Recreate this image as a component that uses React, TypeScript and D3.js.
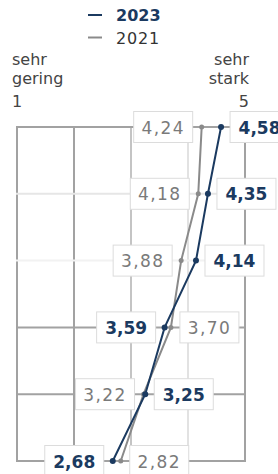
import React, { useEffect, useRef } from 'react';
import * as d3 from 'd3';

// rating scale 1 (sehr gering) .. 5 (sehr stark)
const scaleTicks = [1, 2, 3, 4, 5];
const items = ['A', 'B', 'C', 'D', 'E', 'F'];
const values2023 = [4.58, 4.35, 4.14, 3.59, 3.25, 2.68];
const values2021 = [4.24, 4.18, 3.88, 3.7, 3.22, 2.82];
const legendLabels = ['2023', '2021'];

const W = 278;
const H = 474;
const NAVY = '#1b3a60';
const GREY = '#8a8a8a';
const FONT = "'DejaVu Sans', Verdana, sans-serif";

const fmt = (v: number) => v.toFixed(2).replace('.', ',');

const App = () => {
  const ref = useRef<SVGSVGElement | null>(null);

  useEffect(() => {
    const svg = d3.select(ref.current);
    svg.selectAll('*').remove();

    const x = d3.scaleLinear().domain([1, 5]).range([17, 245]);
    const y = d3.scalePoint<string>().domain(items).range([127, 461]);

    // grid tones: verticals per tick, horizontals per row
    const vTone = ['#a2a2a2', '#a2a2a2', '#c4c4c4', '#e2e2e2', '#a2a2a2'];
    const hTone = ['#a2a2a2', '#e6e6e6', '#f2f2f2', '#a2a2a2', '#a2a2a2', '#a2a2a2'];

    const grid = svg.append('g');
    grid.selectAll('line.v')
      .data(scaleTicks)
      .join('line')
      .attr('x1', d => x(d)).attr('x2', d => x(d))
      .attr('y1', y(items[0])!).attr('y2', y(items[items.length - 1])!)
      .attr('stroke', (d, i) => vTone[i])
      .attr('stroke-width', 2);
    grid.selectAll('line.h')
      .data(items)
      .join('line')
      .attr('x1', x(1) - 1).attr('x2', x(5) + 1)
      .attr('y1', d => y(d)!).attr('y2', d => y(d)!)
      .attr('stroke', (d, i) => hTone[i])
      .attr('stroke-width', 2);

    // legend
    const legend = svg.append('g');
    legendLabels.forEach((lab, i) => {
      const ly = 15 + i * 22.5;
      legend.append('line')
        .attr('x1', 88).attr('x2', 102)
        .attr('y1', ly).attr('y2', ly)
        .attr('stroke', i === 0 ? NAVY : GREY)
        .attr('stroke-width', 2);
      legend.append('text')
        .attr('x', 116).attr('y', ly + 6)
        .attr('font-family', FONT)
        .attr('font-size', 16)
        .attr('font-weight', i === 0 ? 'bold' : 'normal')
        .attr('letter-spacing', i === 0 ? 0 : 0.8)
        .attr('fill', i === 0 ? NAVY : '#333')
        .text(lab);
    });

    // scale end captions
    const cap = svg.append('g')
      .attr('font-family', FONT)
      .attr('font-size', 16)
      .attr('fill', '#444');
    [['sehr', 65], ['gering', 84], ['1', 107]].forEach(([t, yy]) => {
      cap.append('text').attr('x', 12).attr('y', yy as number).text(t as string);
    });
    [['sehr', 65], ['stark', 84], ['5', 107]].forEach(([t, yy]) => {
      cap.append('text').attr('x', 249).attr('y', yy as number)
        .attr('text-anchor', 'end').text(t as string);
    });

    // value boxes: lower value left, higher value right
    const boxW = 59;
    const boxH = 31;
    const gap = 9;
    const labels = svg.append('g');
    items.forEach((it, i) => {
      const pair = [
        { v: values2023[i], navy: true },
        { v: values2021[i], navy: false },
      ].sort((a, b) => a.v - b.v);
      const cy = y(it)!;
      pair.forEach((p, j) => {
        const bx = j === 0 ? x(p.v) - gap - boxW : x(pair[1].v) + gap;
        labels.append('rect')
          .attr('x', bx).attr('y', cy - boxH / 2)
          .attr('width', boxW).attr('height', boxH)
          .attr('fill', '#fff')
          .attr('stroke', '#dcdcdc')
          .attr('stroke-width', 1);
        labels.append('text')
          .attr('x', bx + boxW / 2).attr('y', cy + 6.5)
          .attr('text-anchor', 'middle')
          .attr('font-family', FONT)
          .attr('font-size', 17)
          .attr('font-weight', p.navy ? 'bold' : 'normal')
          .attr('letter-spacing', p.navy ? 0 : 1.4)
          .attr('fill', p.navy ? NAVY : '#7a7a7a')
          .text(fmt(p.v));
      });
    });

    // series lines
    const series = [
      { vals: values2021, color: GREY, r: 2.5 },
      { vals: values2023, color: NAVY, r: 3 },
    ];
    const line = d3.line<number>()
      .x(d => x(d))
      .y((d, i) => y(items[i])!);
    series.forEach(s => {
      svg.append('path')
        .datum(s.vals)
        .attr('fill', 'none')
        .attr('stroke', s.color)
        .attr('stroke-width', 2)
        .attr('d', line);
      svg.append('g').selectAll('circle')
        .data(s.vals)
        .join('circle')
        .attr('cx', d => x(d))
        .attr('cy', (d, i) => y(items[i])!)
        .attr('r', s.r)
        .attr('fill', s.color);
    });
  }, []);

  return (
    <div style={{ position: 'absolute', left: 0, top: 0, background: '#fff' }}>
      <svg ref={ref} width={W} height={H} />
    </div>
  );
};

export default App;
